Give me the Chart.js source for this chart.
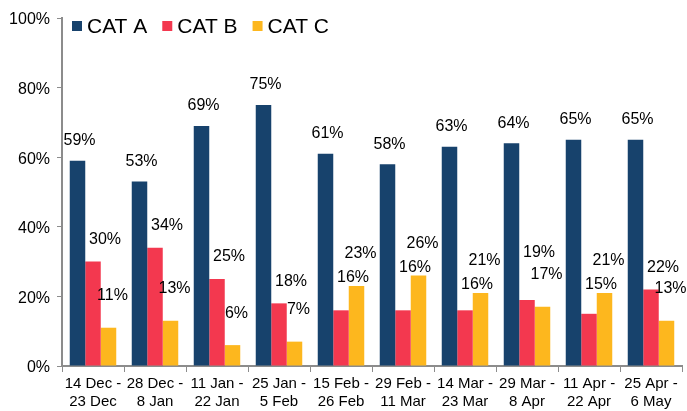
<!DOCTYPE html>
<html>
<head>
<meta charset="utf-8">
<script src="https://cdn.jsdelivr.net/npm/chart.js@4"></script>
<style>
  html, body { margin: 0; padding: 0; background: #fff; }
  #wrap { width: 687px; height: 411px; position: relative; }
</style>
</head>
<body>
<div id="wrap"><canvas id="chart"></canvas></div>
<script>
const periods = [
    ['14 Dec -', '23 Dec'], ['28 Dec -', '8 Jan'], ['11 Jan -', '22 Jan'], ['25 Jan -', '5 Feb'],
    ['15 Feb -', '26 Feb'], ['29 Feb -', '11 Mar'], ['14 Mar -', '23 Mar'], ['29 Mar -', '8 Apr'],
    ['11 Apr -', '22 Apr'], ['25 Apr -', '6 May']
];
const catA = [59, 53, 69, 75, 61, 58, 63, 64, 65, 65];
const catB = [30, 34, 25, 18, 16, 16, 16, 19, 15, 22];
const catC = [11, 13, 6, 7, 23, 26, 21, 17, 21, 13];
const seriesNames = ['CAT A', 'CAT B', 'CAT C'];
const seriesColors = ['#17426c', '#f3384f', '#fdb71e'];

const FONT = "'Liberation Sans', Arial, sans-serif";
const axisGray = '#8c8c8c';

// legend drawn inside the plot, top-left, like the original
const legendPlugin = {
    id: 'insideLegend',
    afterDraw(chart) {
        const ctx = chart.ctx;
        let x = chart.chartArea.left + 10;
        const y = 26;
        ctx.save();
        ctx.font = `21px ${FONT}`;
        ctx.textBaseline = 'middle';
        chart.data.datasets.forEach(ds => {
            ctx.fillStyle = ds.backgroundColor;
            ctx.fillRect(x, y - 5, 10, 10);
            ctx.fillStyle = '#000';
            ctx.fillText(ds.label, x + 15, y + 1);
            x += 15 + ctx.measureText(ds.label).width + 15;
        });
        ctx.restore();
    }
};

// percentage labels over the bars
const valueLabels = {
    id: 'valueLabels',
    afterDatasetsDraw(chart) {
        const ctx = chart.ctx;
        const [ma, mb, mc] = [0, 1, 2].map(i => chart.getDatasetMeta(i));
        const vals = chart.data.datasets.map(d => d.data);
        ctx.save();
        ctx.font = `16px ${FONT}`;
        ctx.fillStyle = '#000';
        ctx.textAlign = 'center';
        ctx.textBaseline = 'middle';
        ma.data.forEach((a, i) => {
            const b = mb.data[i], c = mc.data[i];
            let bY = Math.min(b.y - 22, c.y - 8);
            let cY = c.y - 32;
            if (Math.abs(cY - bY) < 20) {
                if (c.y < b.y) cY = bY - 24;
                else bY = cY - 22;
            }
            ctx.fillText(vals[0][i] + '%', a.x + 2, a.y - 20);
            ctx.fillText(vals[1][i] + '%', b.x + 12, bY);
            ctx.fillText(vals[2][i] + '%', c.x + 4, cY);
        });
        ctx.restore();
    }
};

new Chart(document.getElementById('chart'), {
    type: 'bar',
    data: {
        labels: periods,
        datasets: [catA, catB, catC].map((d, i) => ({
            label: seriesNames[i],
            data: d,
            backgroundColor: seriesColors[i],
            borderWidth: 0,
            categoryPercentage: 0.75,
            barPercentage: 1
        }))
    },
    options: {
        responsive: true,
        maintainAspectRatio: false,
        animation: false,
        layout: { padding: { top: 18, right: 5, left: 0, bottom: 0 } },
        plugins: { legend: { display: false }, tooltip: { enabled: false } },
        scales: {
            x: {
                offset: true,
                grid: { drawOnChartArea: false, drawTicks: true, tickLength: 6, color: axisGray, offset: true },
                border: { color: axisGray, width: 2 },
                ticks: { color: '#000', font: { family: FONT, size: 15 }, padding: 3, maxRotation: 0, autoSkip: false },
                afterFit: s => { s.height = 45; }
            },
            y: {
                min: 0,
                max: 100,
                grid: { drawOnChartArea: false, drawTicks: true, tickLength: 5, color: axisGray },
                border: { color: axisGray, width: 2 },
                ticks: { stepSize: 20, color: '#000', font: { family: FONT, size: 16 }, padding: 7, labelOffset: 2, callback: v => v + '%' },
                afterFit: s => { s.width = 62; }
            }
        }
    },
    plugins: [legendPlugin, valueLabels]
});
</script>
</body>
</html>
